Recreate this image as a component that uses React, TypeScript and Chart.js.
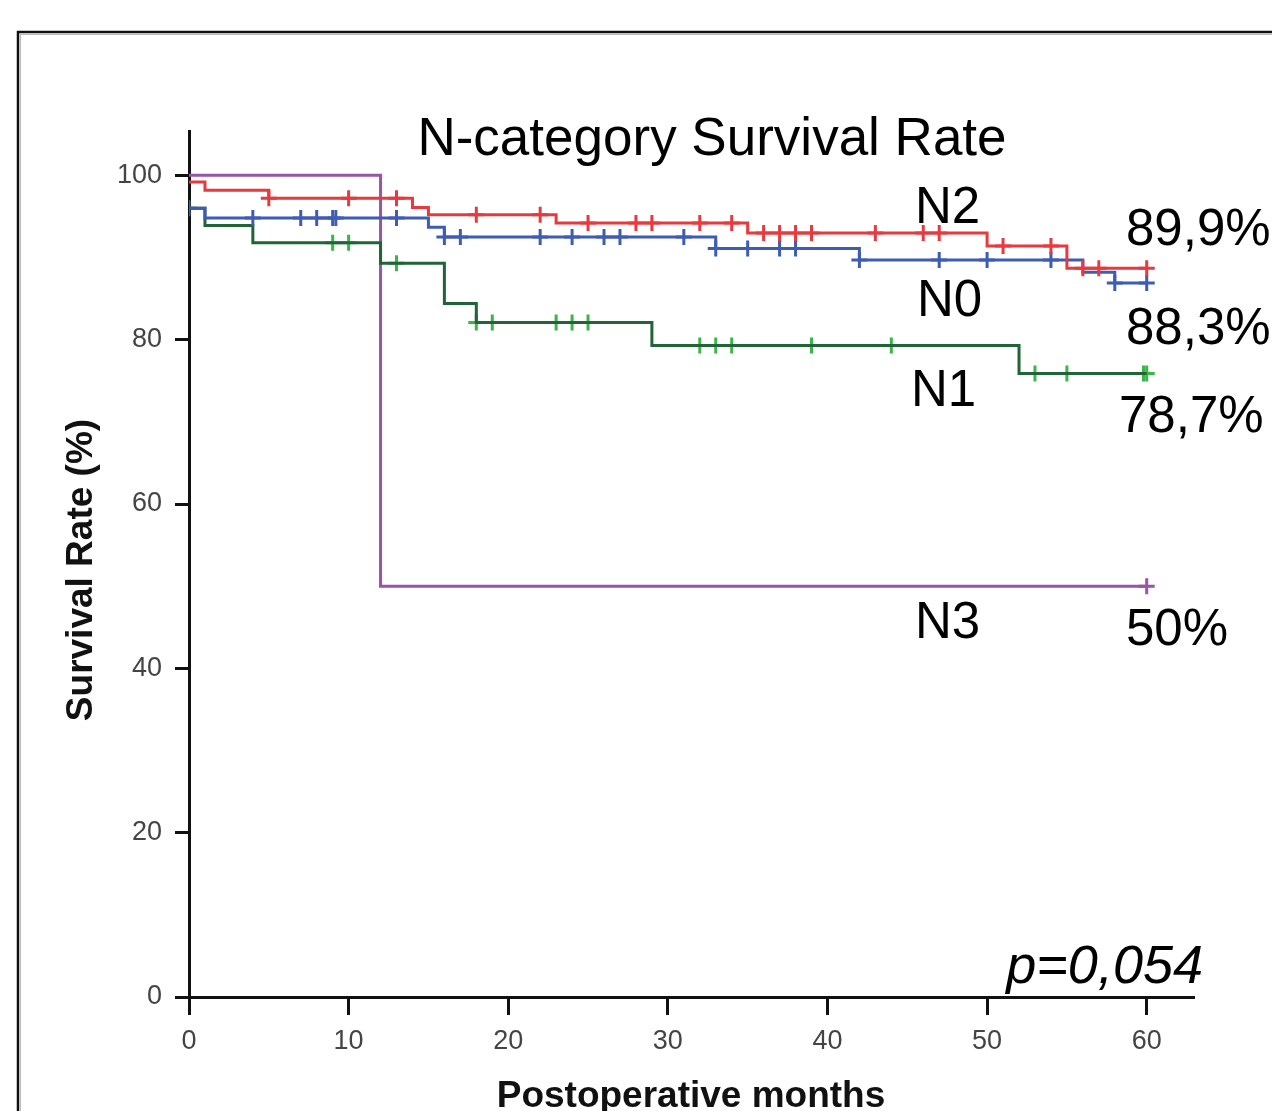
import React, { useEffect, useRef } from "react";
import { Chart, registerables } from "chart.js";

Chart.register(...registerables);

// ---- Data ----
const n2Times = [0, 1, 5, 14, 15, 23, 35, 50, 55, 60];
const n2Values = [99.2, 98.2, 97.2, 96.1, 95.2, 94.2, 93.0, 91.4, 88.7, 88.7];
const n2Censor = [5, 10, 13, 18, 22, 25, 28, 29, 32, 34, 36, 37, 38, 39, 43, 46, 47, 51, 54, 56, 57, 60];

const n0Times = [0, 1, 15, 16, 33, 42, 56, 58, 60];
const n0Values = [96.0, 94.8, 93.7, 92.5, 91.1, 89.7, 88.2, 86.9, 86.9];
const n0Censor = [0, 4, 7, 8, 9, 9.2, 13, 16, 17, 22, 24, 26, 27, 31, 33, 35, 37, 38, 42, 47, 50, 54, 58, 60];

const n1Times = [0, 1, 4, 12, 16, 18, 29, 52, 60];
const n1Values = [96.0, 93.9, 91.8, 89.3, 84.4, 82.1, 79.3, 75.9, 75.9];
const n1Censor = [9, 10, 13, 18, 19, 23, 24, 25, 32, 33, 34, 39, 44, 53, 55, 59.8, 60];

const n3Times = [0, 12, 60];
const n3Values = [100, 50, 50];
const n3Censor = [60];

const xTicks = [0, 10, 20, 30, 40, 50, 60];
const yTicks = [0, 20, 40, 60, 80, 100];

const titleText = "N-category Survival Rate";
const groupLabels = ["N2", "N0", "N1", "N3"];
const endLabels = ["89,9%", "88,3%", "78,7%", "50%"];
const pText = "p=0,054";
const xTitle = "Postoperative months";
const yTitle = "Survival Rate (%)";

// ---- helpers ----
const curve = (t: number[], v: number[]) => t.map((x, i) => ({ x, y: v[i] }));
const valueAt = (t: number[], v: number[], x: number) => {
  let val = v[0];
  for (let i = 0; i < t.length; i++) if (x >= t[i]) val = v[i];
  return val;
};
const censorPts = (t: number[], v: number[], c: number[]) =>
  c.map((x) => ({ x, y: valueAt(t, v, x) }));

const RED = "rgb(232,58,62)";
const BLUE = "rgb(62,92,180)";
const GREEN_LINE = "rgb(32,100,56)";
const GREEN_MARK = "rgb(58,182,72)";
const PURPLE = "rgb(152,84,168)";

const FONT = '"Liberation Sans", Arial, sans-serif';

const lineDs = (label: string, data: any[], color: string) => ({
  type: "line" as const,
  label,
  data,
  stepped: "before" as const,
  borderColor: color,
  borderWidth: 3,
  pointRadius: 0,
  fill: false,
});
const markDs = (label: string, data: any[], color: string) => ({
  type: "line" as const,
  label,
  data,
  showLine: false,
  pointStyle: "cross" as const,
  pointRadius: 8,
  pointBorderWidth: 3,
  borderColor: color,
  backgroundColor: color,
  pointBorderColor: color,
});

const textPlugin = {
  id: "texts",
  beforeDraw(chart: any) {
    const ctx = chart.ctx;
    ctx.save();
    ctx.fillStyle = "#fff";
    ctx.fillRect(0, 0, chart.width, chart.height);
    // frame
    ctx.strokeStyle = "#bbb";
    ctx.lineWidth = 1;
    ctx.strokeRect(20.5, 34.5, 1400, 1200);
    ctx.strokeStyle = "#111";
    ctx.lineWidth = 2.5;
    ctx.strokeRect(18, 32, 1400, 1200);
    ctx.restore();
  },
  afterDraw(chart: any) {
    const ctx = chart.ctx;
    ctx.save();
    ctx.fillStyle = "#000";
    ctx.textBaseline = "alphabetic";
    ctx.font = `53px ${FONT}`;
    ctx.textAlign = "center";
    ctx.fillText(titleText, 712, 155);
    ctx.textAlign = "left";
    ctx.font = `51px ${FONT}`;
    const gPos = [
      [915, 223],
      [917, 316],
      [911, 406],
      [915, 638],
    ];
    groupLabels.forEach((s, i) => ctx.fillText(s, gPos[i][0], gPos[i][1]));
    const ePos = [
      [1126, 245],
      [1126, 344],
      [1119, 432],
      [1126, 645],
    ];
    endLabels.forEach((s, i) => ctx.fillText(s, ePos[i][0], ePos[i][1]));
    ctx.font = `italic 54px ${FONT}`;
    ctx.textAlign = "right";
    ctx.fillText(pText, 1203, 983);
    // axis titles
    ctx.font = `bold 37px ${FONT}`;
    ctx.textAlign = "center";
    ctx.fillStyle = "#111";
    ctx.fillText(xTitle, 691, 1107);
    ctx.translate(92, 570);
    ctx.rotate(-Math.PI / 2);
    ctx.fillText(yTitle, 0, 0);
    ctx.restore();
  },
};

export default function App() {
  const ref = useRef<HTMLCanvasElement>(null);
  useEffect(() => {
    document.body.style.margin = "0";
    const canvas = ref.current!;
    const chart = new Chart(canvas, {
      type: "line",
      data: {
        datasets: [
          lineDs("N2", curve(n2Times, n2Values), RED),
          markDs("N2 censored", censorPts(n2Times, n2Values, n2Censor), RED),
          lineDs("N0", curve(n0Times, n0Values), BLUE),
          markDs("N0 censored", censorPts(n0Times, n0Values, n0Censor), BLUE),
          lineDs("N1", curve(n1Times, n1Values), GREEN_LINE),
          markDs("N1 censored", censorPts(n1Times, n1Values, n1Censor), GREEN_MARK),
          lineDs("N3", curve(n3Times, n3Values), PURPLE),
          markDs("N3 censored", censorPts(n3Times, n3Values, n3Censor), PURPLE),
        ] as any,
      },
      options: {
        responsive: false,
        animation: false,
        devicePixelRatio: 1,
        layout: { padding: { left: 0, right: 79, top: 131, bottom: 0 } },
        plugins: {
          legend: { display: false },
          title: { display: false },
          tooltip: { enabled: false },
        },
        scales: {
          x: {
            type: "linear",
            min: 0,
            max: 62.9,
            afterFit: (s: any) => {
              s.height = 114;
            },
            afterBuildTicks: (s: any) => {
              s.ticks = xTicks.map((value) => ({ value }));
            },
            ticks: {
              includeBounds: false,
              padding: 10,
              color: "#444",
              font: { family: FONT, size: 27 },
              maxRotation: 0,
              autoSkip: false,
            },
            grid: {
              display: true,
              drawOnChartArea: false,
              drawTicks: true,
              tickLength: 18,
              color: "#111",
              lineWidth: 3,
            },
            border: { display: true, color: "#111", width: 3 },
          },
          y: {
            type: "linear",
            min: 0,
            max: 105.4,
            afterFit: (s: any) => {
              s.width = 189;
            },
            afterBuildTicks: (s: any) => {
              s.ticks = yTicks.map((value) => ({ value }));
            },
            ticks: {
              includeBounds: false,
              padding: 13,
              color: "#444",
              font: { family: FONT, size: 27 },
              autoSkip: false,
            },
            grid: {
              display: true,
              drawOnChartArea: false,
              drawTicks: true,
              tickLength: 14,
              color: "#111",
              lineWidth: 3,
            },
            border: { display: true, color: "#111", width: 3 },
          },
        },
      },
      plugins: [textPlugin],
    });
    return () => chart.destroy();
  }, []);
  return (
    <div style={{ width: 1272, height: 1111, overflow: "hidden" }}>
      <canvas ref={ref} width={1272} height={1111} style={{ display: "block" }} />
    </div>
  );
}
